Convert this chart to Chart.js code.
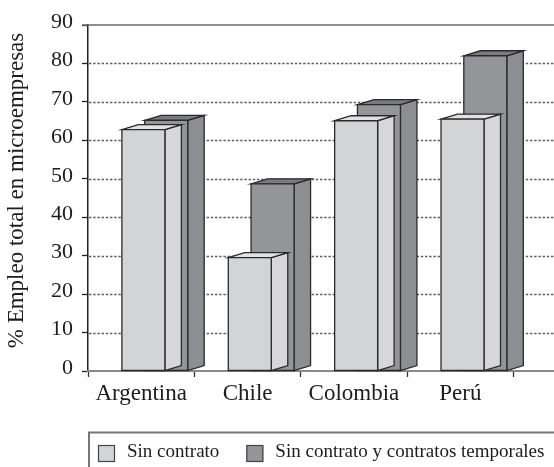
<!DOCTYPE html>
<html>
<head>
<meta charset="utf-8">
<script src="https://cdn.jsdelivr.net/npm/chart.js@4/dist/chart.umd.min.js"></script>
<style>
  html, body { margin: 0; padding: 0; background: #ffffff; }
  canvas { display: block; }
</style>
</head>
<body>
<canvas id="chart" width="554" height="467"></canvas>
<script>
// Categories and series values (% of total employment in micro-enterprises)
const categories = ['Argentina', 'Chile', 'Colombia', 'Perú'];
const sinContrato = [62.8, 29.5, 65.1, 65.5];
const sinContratoYTemporales = [65.2, 48.7, 69.3, 82.0];
const seriesNames = ['Sin contrato', 'Sin contrato y contratos temporales'];
const yTickValues = [0, 10, 20, 30, 40, 50, 60, 70, 80, 90];
const yTitle = '% Empleo total en microempresas';

const SERIF = '"Liberation Serif", "Times New Roman", Times, serif';
const INK = '#1c1c1c';

// Face colours of each 3D box, per series
const faceStyles = [
  { front: '#d3d4d6', side: '#d7d7d9', top: '#e2e2e4' },
  { front: '#939598', side: '#8d8e91', top: '#7a7b7e' }
];
// Oblique projection of the boxes
const depth = { dx: 16.5, dy: 5, shift: 13.6 };

const chartDecor = {
  id: 'chartDecor',
  beforeDatasetsDraw(chart) {
    const ctx = chart.ctx;
    const y = chart.scales.y;
    const area = chart.chartArea;
    const W = chart.width;
    ctx.save();
    // dotted gridlines, solid at the top value
    y.ticks.forEach(t => {
      const py = Math.round(y.getPixelForValue(t.value)) + 0.5;
      if (t.value === y.max) {
        ctx.setLineDash([]);
        ctx.strokeStyle = '#6a6a6a';
        ctx.lineWidth = 1.6;
        ctx.beginPath();
        ctx.moveTo(area.left - 6, py - 0.5);
        ctx.lineTo(W, py - 0.5);
        ctx.stroke();
      } else if (t.value !== y.min) {
        ctx.setLineDash([2.4, 1.8]);
        ctx.strokeStyle = '#5e5e5e';
        ctx.lineWidth = 1.3;
        ctx.beginPath();
        ctx.moveTo(area.left + 1, py);
        ctx.lineTo(W, py);
        ctx.stroke();
      }
    });
    // category axis line
    ctx.setLineDash([]);
    const py0 = y.getPixelForValue(0);
    ctx.strokeStyle = '#8a8a8a';
    ctx.lineWidth = 2;
    ctx.beginPath();
    ctx.moveTo(area.left - 1, py0);
    ctx.lineTo(W, py0);
    ctx.stroke();
    ctx.restore();
  },
  beforeDatasetDraw() {
    // boxes are drawn as 3D shapes below
    return false;
  },
  afterDatasetsDraw(chart) {
    const ctx = chart.ctx;
    ctx.save();
    ctx.lineWidth = 1.3;
    ctx.strokeStyle = '#2a2a2a';
    ctx.lineJoin = 'miter';
    // back series first so that the front series overlaps it
    for (let d = chart.data.datasets.length - 1; d >= 0; d--) {
      const meta = chart.getDatasetMeta(d);
      const st = faceStyles[d];
      meta.data.forEach(el => {
        const p = el.getProps(['x', 'y', 'base', 'width'], true);
        const l = p.x - p.width / 2 + depth.shift;
        const r = p.x + p.width / 2 + depth.shift;
        const top = p.y, bot = p.base;
        const dx = depth.dx, dy = depth.dy;
        // side
        ctx.beginPath();
        ctx.moveTo(r, top);
        ctx.lineTo(r + dx, top - dy);
        ctx.lineTo(r + dx, bot - dy);
        ctx.lineTo(r, bot);
        ctx.closePath();
        ctx.fillStyle = st.side;
        ctx.fill();
        ctx.stroke();
        // top
        ctx.beginPath();
        ctx.moveTo(l, top);
        ctx.lineTo(l + dx, top - dy);
        ctx.lineTo(r + dx, top - dy);
        ctx.lineTo(r, top);
        ctx.closePath();
        ctx.fillStyle = st.top;
        ctx.fill();
        ctx.stroke();
        // front
        ctx.beginPath();
        ctx.rect(l, top, r - l, bot - top);
        ctx.fillStyle = st.front;
        ctx.fill();
        ctx.stroke();
      });
    }
    ctx.restore();
  },
  afterDraw(chart) {
    const ctx = chart.ctx;
    const area = chart.chartArea;
    const W = chart.width, H = chart.height;
    ctx.save();
    // value axis title
    ctx.translate(17, (area.top + area.bottom) / 2 - 7.5);
    ctx.rotate(-Math.PI / 2);
    ctx.font = '23px ' + SERIF;
    ctx.fillStyle = INK;
    ctx.textAlign = 'center';
    ctx.textBaseline = 'middle';
    ctx.fillText(yTitle, 0, 0);
    ctx.restore();

    // legend frame
    ctx.save();
    ctx.strokeStyle = '#767676';
    ctx.lineWidth = 2;
    ctx.beginPath();
    ctx.moveTo(89, H);
    ctx.lineTo(89, 432.5);
    ctx.lineTo(W, 432.5);
    ctx.stroke();
    // legend items
    ctx.font = '19px ' + SERIF;
    ctx.textBaseline = 'alphabetic';
    ctx.textAlign = 'left';
    let x = 98;
    chart.data.datasets.forEach((ds, i) => {
      ctx.fillStyle = ds.backgroundColor;
      ctx.fillRect(x, 445, 17, 17);
      ctx.strokeStyle = '#444';
      ctx.lineWidth = 1.2;
      ctx.strokeRect(x + 0.5, 445.5, 16, 16);
      ctx.fillStyle = INK;
      ctx.fillText(ds.label, x + 29, 457);
      x += 29 + ctx.measureText(ds.label).width + 27;
    });
    ctx.restore();
  }
};

new Chart(document.getElementById('chart'), {
  type: 'bar',
  data: {
    labels: categories,
    datasets: [
      { label: seriesNames[0], data: sinContrato, backgroundColor: faceStyles[0].front },
      { label: seriesNames[1], data: sinContratoYTemporales, backgroundColor: faceStyles[1].front }
    ]
  },
  options: {
    responsive: false,
    animation: false,
    devicePixelRatio: 1,
    layout: { padding: { top: 25, right: 40.5, bottom: 0, left: 0 } },
    datasets: { bar: { categoryPercentage: 0.4286, barPercentage: 1.886 } },
    plugins: { legend: { display: false }, tooltip: { enabled: false } },
    scales: {
      x: {
        type: 'category',
        offset: true,
        grid: { offset: true, drawOnChartArea: false, drawTicks: true, tickLength: 6, tickColor: '#333', tickWidth: 1.3 },
        border: { display: false },
        ticks: { font: { family: SERIF, size: 23 }, color: INK, padding: 3, maxRotation: 0, autoSkip: false },
        afterFit(s) { s.height = 96; }
      },
      y: {
        min: 0,
        max: 90,
        afterBuildTicks(s) { s.ticks = yTickValues.map(v => ({ value: v })); },
        grid: { drawOnChartArea: false, drawTicks: true, tickLength: 6, tickColor: '#222', tickWidth: 1.3 },
        border: { display: true, color: '#222', width: 1.5 },
        ticks: { font: { family: SERIF, size: 22 }, color: INK, padding: 9, labelOffset: -3 },
        afterFit(s) { s.width = 88; }
      }
    }
  },
  plugins: [chartDecor]
});
</script>
</body>
</html>
